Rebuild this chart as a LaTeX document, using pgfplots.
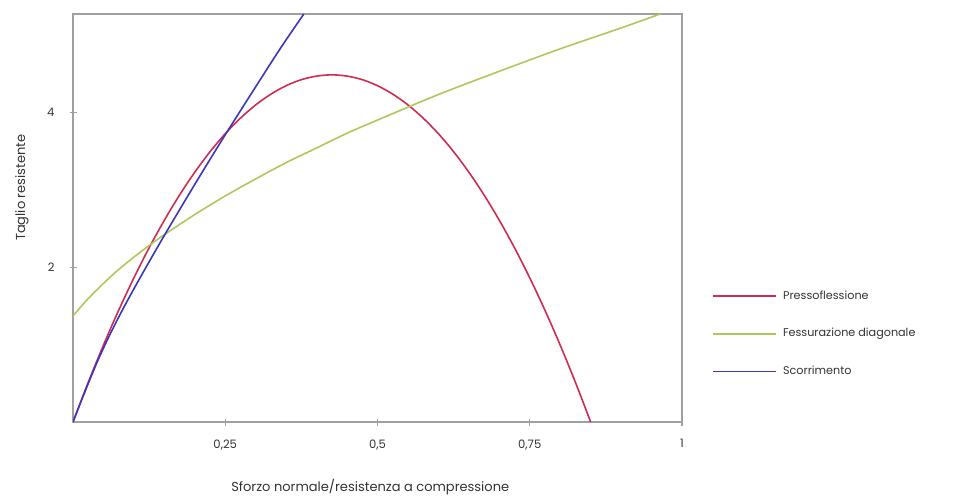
\documentclass[border=0pt]{standalone}
\usepackage{pgfplots}
\pgfplotsset{compat=1.18}
\usepackage{fontspec}
\setmainfont{Poppins}
\definecolor{cred}{RGB}{205,45,80}
\definecolor{cgreen}{RGB}{175,200,90}
\definecolor{cblue}{RGB}{60,55,185}
\definecolor{caxis}{RGB}{160,160,160}
\begin{document}
\begin{tikzpicture}
\useasboundingbox (-36.5pt,-39pt) rectangle (447.5pt,211pt);
\begin{axis}[
  at={(0pt,0pt)}, anchor=south west,
  scale only axis, width=304.5pt, height=204pt,
  xmin=0, xmax=1, ymin=0, ymax=5.27,
  xtick={0.25,0.5,0.75,1}, xticklabels={{0,25},{0,5},{0,75},{1}},
  ytick={2,4}, yticklabels={2,4},
  tick pos=left,
  tick align=center, major tick length=3.5pt,
  axis line style={caxis, line width=0.8pt},
  every tick/.style={caxis, line width=0.6pt},
  tick label style={font=\fontsize{5.8pt}{6.8pt}\selectfont, text=black!80},
  xticklabel style={yshift=-3.5pt},
  yticklabel style={xshift=-4pt},
  /pgf/number format/assume math mode=true,
  xlabel={Sforzo normale/resistenza a compressione},
  ylabel={Taglio resistente},
  label style={font=\fontsize{6.5pt}{7.5pt}\selectfont, text=black!80},
  xlabel style={at={(axis description cs:0.488,-0.159)}, anchor=center},
  ylabel style={at={(axis description cs:-0.084,0.574)}, anchor=center, rotate=0},
  legend style={at={(axis description cs:1.049,0.216)}, anchor=west, draw=none, fill=none,
    inner sep=0pt, font=\fontsize{5.6pt}{6.6pt}\selectfont, text=black!80,
    row sep=9pt, nodes={inner xsep=3pt}},
  legend cell align=left,
  legend image code/.code={\draw[#1, line width=0.9pt] (0pt,0pt) -- (31.5pt,0pt);},
  every axis plot/.append style={line width=0.8pt},
]
\addplot[cred, smooth] coordinates {
(0,0) (0.025,0.512) (0.05,0.993) (0.075,1.443) (0.1,1.862) (0.125,2.250) (0.15,2.606) (0.175,2.932)
(0.2,3.227) (0.225,3.491) (0.25,3.724) (0.275,3.925) (0.3,4.096) (0.325,4.235) (0.35,4.344)
(0.375,4.422) (0.4,4.468) (0.425,4.484) (0.45,4.468) (0.475,4.422)
(0.5,4.344) (0.525,4.235) (0.55,4.096) (0.575,3.925) (0.6,3.724) (0.625,3.491) (0.65,3.227)
(0.675,2.932) (0.7,2.606) (0.725,2.250) (0.75,1.862)
(0.775,1.443) (0.8,0.993) (0.825,0.512) (0.85,0)};
\addlegendentry{Pressoflessione}
\addplot[cgreen, smooth] coordinates {
(0,1.37) (0.025,1.595) (0.05,1.79) (0.075,1.97) (0.1,2.13) (0.125,2.28) (0.15,2.42) (0.2,2.68)
(0.25,2.92) (0.3,3.14) (0.35,3.35) (0.4,3.54) (0.45,3.73) (0.5,3.90) (0.6,4.23) (0.7,4.53)
(0.8,4.82) (0.9,5.09) (0.964,5.27)};
\addlegendentry{Fessurazione diagonale}
\addplot[cblue, smooth] coordinates {
(0,0) (0.02,0.40) (0.04,0.78) (0.06,1.12) (0.08,1.43) (0.1,1.72) (0.12,2.00) (0.15,2.41)
(0.2,3.07) (0.25,3.71) (0.3,4.33) (0.34,4.82) (0.379,5.27)};
\addlegendentry{Scorrimento}
\end{axis}
\end{tikzpicture}
\end{document}
